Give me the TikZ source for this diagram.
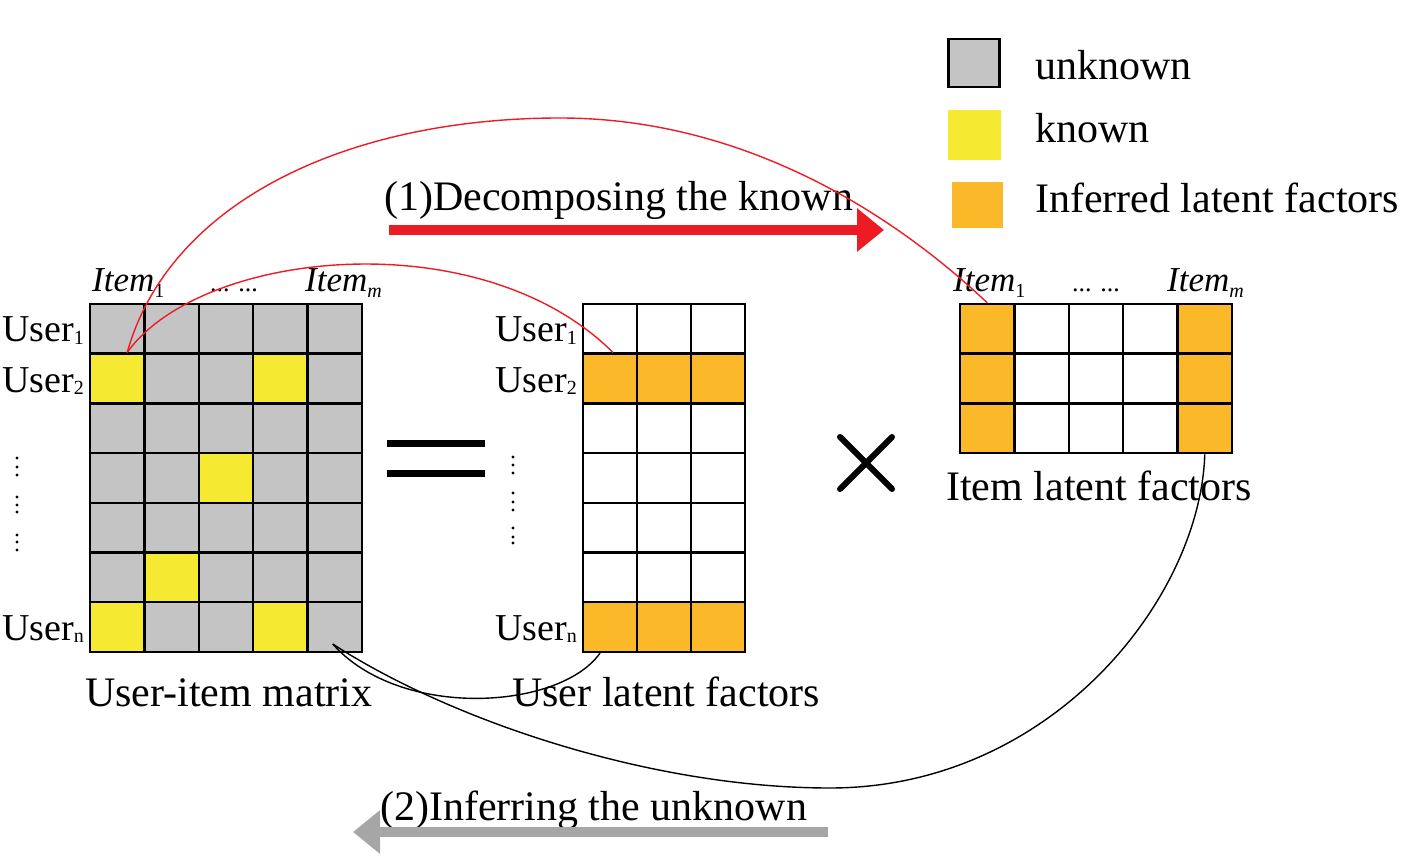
\documentclass[tikz,border=0pt]{standalone}
\usepackage{fontspec}
\setmainfont{Liberation Serif}
\usetikzlibrary{calc,arrows.meta}
\definecolor{cg}{RGB}{196,196,196}
\definecolor{cy}{RGB}{245,233,50}
\definecolor{co}{RGB}{251,185,42}
\definecolor{cw}{RGB}{255,255,255}
\definecolor{cred}{RGB}{237,28,36}
\definecolor{carr}{RGB}{166,166,166}
\newcommand{\fsz}[1]{\fontsize{#1}{#1}\selectfont}
\newcommand{\usb}[1]{\raisebox{-2pt}{\fsz{20}#1}}
\newcommand{\isb}[1]{\raisebox{-6pt}{\fsz{20}#1}}
\begin{document}
\begin{tikzpicture}[x=1pt,y=-1pt,
  lcell/.style={draw=black,line width=2.4pt,inner sep=0pt,minimum width=54.4pt,minimum height=49.7pt},
  mcell/.style={draw=black,line width=2.4pt,inner sep=0pt,minimum width=54pt,minimum height=49.7pt},
  lbl/.style={inner sep=0pt,anchor=base west},
  capt/.style={lbl,font=\fsz{42}},
  ulbl/.style={lbl,font=\fsz{38}},
  ilbl/.style={lbl,font=\fsz{35}\itshape},
  dlbl/.style={lbl,font=\fsz{26}},
  thinred/.style={cred,line width=1.4pt},
  thinblk/.style={black,line width=1.4pt},
  bigarrow/.style={line width=10pt,-{Triangle[length=27pt,width=42pt]}}]
\useasboundingbox (0,0) rectangle (1408,866);

% left matrix
\foreach \row [count=\r from 0] in {{g,g,g,g,g},{y,g,g,y,g},{g,g,g,g,g},{g,g,y,g,g},{g,g,g,g,g},{g,y,g,g,g},{y,g,g,y,g}}{
  \foreach \col [count=\c from 0] in \row {
    \node[lcell,fill=c\col] (L-\r-\c) at ({90+54.4*(\c+0.5)},{304+49.7*(\r+0.5)}) {};
  }
}
% middle matrix
\foreach \row [count=\r from 0] in {{w,w,w},{o,o,o},{w,w,w},{w,w,w},{w,w,w},{w,w,w},{o,o,o}}{
  \foreach \col [count=\c from 0] in \row {
    \node[mcell,fill=c\col] (M-\r-\c) at ({583+54*(\c+0.5)},{304+49.7*(\r+0.5)}) {};
  }
}
% right matrix
\foreach \row [count=\r from 0] in {{o,w,w,w,o},{o,w,w,w,o},{o,w,w,w,o}}{
  \foreach \col [count=\c from 0] in \row {
    \node[lcell,fill=c\col] (R-\r-\c) at ({960+54.4*(\c+0.5)},{304+49.7*(\r+0.5)}) {};
  }
}

% item labels
\node[ilbl] (li1) at (92,292) {Item\isb{\upshape 1}};
\node[dlbl] (ldots) at (210,292) {... ...};
\node[ilbl] (lim) at (305,292) {Item\isb{m}};
\node[ilbl] (ri1) at (953,292) {Item\isb{\upshape 1}};
\node[dlbl] (rdots) at (1072,292) {... ...};
\node[ilbl] (rim) at (1167,292) {Item\isb{m}};

% user labels
\node[ulbl] (lu1) at (2,342) {User\usb{1}};
\node[ulbl] (lu2) at (2,392) {User\usb{2}};
\node[ulbl] (lun) at (2,640) {User\usb{n}};
\node[ulbl] (mu1) at (495,342) {User\usb{1}};
\node[ulbl] (mu2) at (495,392) {User\usb{2}};
\node[ulbl] (mun) at (495,640) {User\usb{n}};
\foreach \y in {458,467,475,497,505,512,535,542,550} \fill (17,\y) circle (1.7);
\foreach \y in {457,465,473,493,502,510,528,537,543} \fill (513,\y) circle (1.7);

% captions
\node[capt] (c1) at (85,706) {User-item matrix};
\node[capt] (c2) at (512,706) {User latent factors};
\node[capt] (c3) at (946,500) {Item latent factors};

% operators
\draw[line width=7pt] (387,443) -- (485,443);
\draw[line width=7pt] (387,473) -- (485,473);
\draw[line width=6pt,line cap=round] (840,437) -- (892,489);
\draw[line width=6pt,line cap=round] (892,437) -- (840,489);

% legend
\node[draw=black,line width=2.6pt,fill=cg,inner sep=0pt,minimum width=51pt,minimum height=48pt] (lg1) at (974,63) {};
\node[fill=cy,inner sep=0pt,minimum width=53pt,minimum height=50pt] (lg2) at (974.5,135) {};
\node[fill=co,inner sep=0pt,minimum width=51pt,minimum height=46pt] (lg3) at (977.5,205) {};
\node[capt] (lt1) at (1035,80) {unknown};
\node[capt] (lt2) at (1035,143) {known};
\node[capt] (lt3) at (1035,213) {Inferred latent factors};

% step arrows
\node[capt] (s1) at (384,211) {(1)Decomposing the known};
\coordinate (a1s) at (389,230);
\coordinate (a1e) at (884,230);
\draw[cred,bigarrow] (a1s) -- (a1e);
\node[capt] (s2) at (380,820) {(2)Inferring the unknown};
\coordinate (a2s) at (828,832);
\coordinate (a2e) at (353,832);
\draw[carr,bigarrow] (a2s) -- (a2e);

% red curves
\coordinate (rtop) at (560,118);
\draw[thinred] ([xshift=10pt]L-1-0.north) .. controls (170,200) and (350,118) .. (rtop)
   .. controls (750,118) and (900,220) .. (R-0-0.north);
\draw[thinred] ([xshift=10pt]L-1-0.north) .. controls (200,250) and (480,220) .. ([xshift=3pt]M-1-0.north);

% black curves
\coordinate (bbot) at (830,788);
\draw[thinblk] ([xshift=-2pt,yshift=-17pt]L-6-4.center) .. controls (400,720) and (560,710) .. ([xshift=-10pt]M-6-0.south);
\draw[thinblk] ([xshift=-2pt,yshift=-17pt]L-6-4.center) .. controls (450,720) and (650,788) .. (bbot)
   .. controls (1050,788) and (1200,600) .. (R-2-4.south);
\end{tikzpicture}
\end{document}
